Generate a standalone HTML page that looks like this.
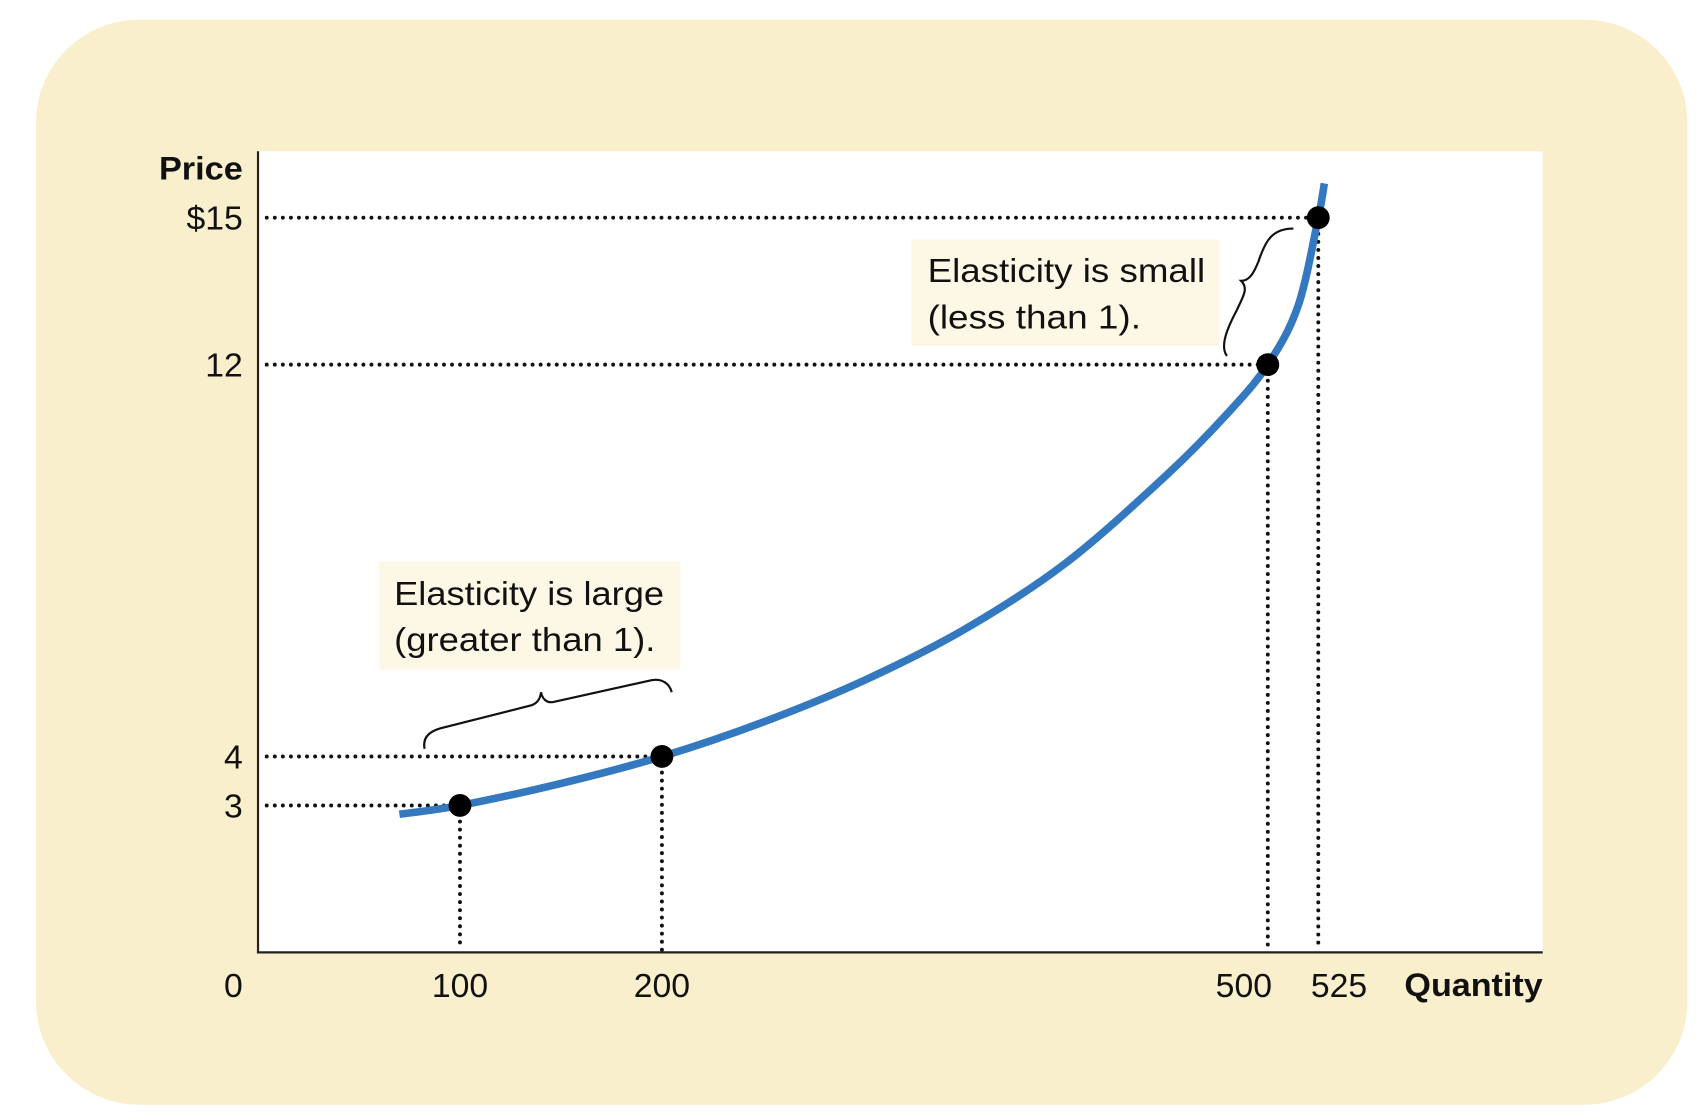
<!DOCTYPE html>
<html><head><meta charset="utf-8"><style>
html,body{margin:0;padding:0;background:#fff;}
svg{display:block;}
text{font-family:"Liberation Sans",sans-serif;fill:#111;}
</style></head><body>
<svg id="chart" width="1706" height="1120" viewBox="0 0 1567 1029" preserveAspectRatio="none">
<rect x="33" y="18" width="1517" height="997" rx="95" fill="#f9efcd"/>
<rect x="237" y="139" width="1180" height="736" fill="#ffffff"/>
<g id="guides"></g>
<rect x="837" y="220" width="283" height="98" fill="#fdf8e6"/>
<text x="852" y="259" font-size="31" textLength="255" lengthAdjust="spacingAndGlyphs">Elasticity is small</text>
<text x="852" y="302" font-size="31" textLength="196" lengthAdjust="spacingAndGlyphs">(less than 1).</text>
<rect x="348" y="516" width="277" height="99" fill="#fdf8e6"/>
<text x="362" y="556" font-size="31" textLength="248" lengthAdjust="spacingAndGlyphs">Elasticity is large</text>
<text x="362" y="598" font-size="31" textLength="240" lengthAdjust="spacingAndGlyphs">(greater than 1).</text>
<path d="M390,688 C388,678 394,672 405,669 L488,648 C494,646 496,642 497,636 C498,642 502,646 508,645 L598,625 C608,623 615,628 617,636" fill="none" stroke="#111" stroke-width="2"/>
<path d="M1127,327 C1120,318 1128,300 1136,285 C1142,272 1147,265 1140,258 C1148,258 1152,250 1156,240 C1162,222 1168,210 1188,210" fill="none" stroke="#111" stroke-width="2"/>
<g id="curve"></g>
<g id="points"></g>
<line x1="237" y1="139" x2="237" y2="876" stroke="#222" stroke-width="2"/>
<line x1="236" y1="875" x2="1417" y2="875" stroke="#222" stroke-width="2"/>
<text x="223" y="165" font-size="30" font-weight="bold" text-anchor="end" textLength="77" lengthAdjust="spacingAndGlyphs">Price</text>
<text x="1417" y="915" font-size="30" font-weight="bold" text-anchor="end" textLength="127" lengthAdjust="spacingAndGlyphs">Quantity</text>
<text x="223" y="916" font-size="31" text-anchor="end">0</text>
<g id="ticks"></g>
</svg>
<script>
const curveQ = [70, 100, 150, 200, 250, 300, 350, 400, 450, 480, 500, 515, 525, 528];
const curveP = [2.82, 3, 3.45, 4, 4.7, 5.55, 6.6, 7.95, 9.75, 11.0, 12, 13.2, 15, 15.7];
const pointQ = [100, 200, 500, 525];
const pointP = [3, 4, 12, 15];
const xTickLabels = ["100", "200", "500", "525"];
const yTickLabels = ["3", "4", "12", "$15"];
const xLabelShift = [0, 0, -22, 19];

const NS = "http://www.w3.org/2000/svg";
function xs(q){ return 237 + q * 1.855; }
function ys(p){ return 875 - p * 45; }
function mk(tag, attrs, parent){
  const e = document.createElementNS(NS, tag);
  for (const k in attrs) e.setAttribute(k, attrs[k]);
  document.getElementById(parent).appendChild(e);
  return e;
}
const pts = curveQ.map((q,i)=>[xs(q), ys(curveP[i])]);
let d = "M" + pts[0][0] + "," + pts[0][1];
for (let i=0;i<pts.length-1;i++){
  const p0 = pts[Math.max(0,i-1)], p1 = pts[i], p2 = pts[i+1], p3 = pts[Math.min(pts.length-1,i+2)];
  const c1 = [p1[0]+(p2[0]-p0[0])/6, p1[1]+(p2[1]-p0[1])/6];
  const c2 = [p2[0]-(p3[0]-p1[0])/6, p2[1]-(p3[1]-p1[1])/6];
  d += " C"+c1[0]+","+c1[1]+" "+c2[0]+","+c2[1]+" "+p2[0]+","+p2[1];
}
const curve = mk("path", {d:d, fill:"none", stroke:"#3479bf", "stroke-width":7}, "curve");



pointQ.forEach((q,i)=>{
  const x = xs(q), y = ys(pointP[i]);
  const h = mk("line", {x1:245, y1:y, x2:x, y2:y, stroke:"#111", "stroke-width":3.6, "stroke-dasharray":"0 7.4", "stroke-linecap":"round"}, "guides");
  
  
  const v = mk("line", {x1:x, y1:y, x2:x, y2:873, stroke:"#111", "stroke-width":3.6, "stroke-dasharray":"0 7.4", "stroke-linecap":"round"}, "guides");
  
  
  const c = mk("circle", {cx:x, cy:y, r:10.5, fill:"#000"}, "points");
  
  
  const xt = mk("text", {x:x + xLabelShift[i], y:916, "font-size":31, "text-anchor":"middle"}, "ticks");
  xt.textContent = xTickLabels[i];
  
  
  const yt = mk("text", {x:223, y:y+11, "font-size":31, "text-anchor":"end"}, "ticks");
  yt.textContent = yTickLabels[i];
  
  
});
</script>
</body></html>
